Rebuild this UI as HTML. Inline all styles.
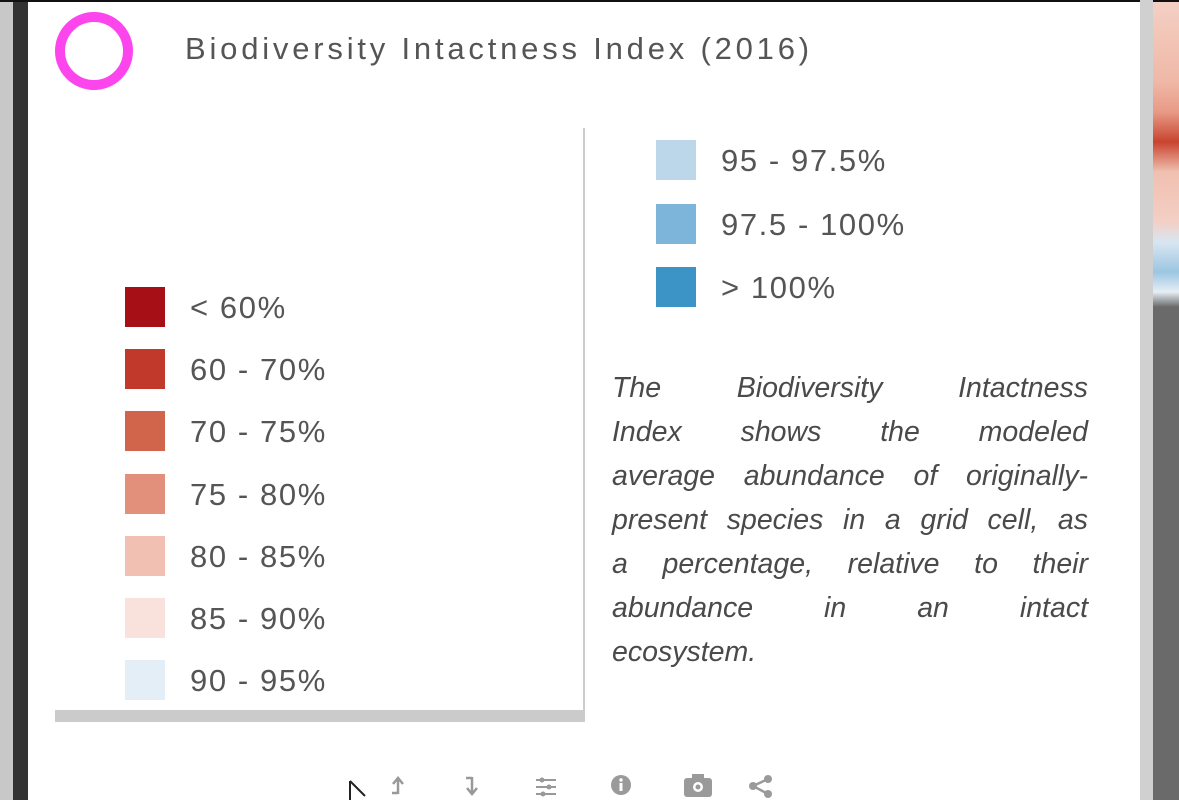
<!DOCTYPE html>
<html><head><meta charset="utf-8"><style>
body{margin:0;width:1179px;height:800px;overflow:hidden;background:#fff;font-family:"Liberation Sans",sans-serif;position:relative}
.a{position:absolute}
.sw{position:absolute;width:40px;height:40px}
.lb{position:absolute;font-size:31px;letter-spacing:1.6px;color:#555;line-height:40px;white-space:nowrap}
.ln{position:absolute;left:612px;width:476px;font-size:28.5px;font-style:italic;color:#4a4a4a;text-align:justify;text-align-last:justify;white-space:nowrap;line-height:34px}
.ln.last{text-align-last:left}
</style></head><body>
<div class="a" style="left:0;top:0;width:13px;height:800px;background:#c8c8c8"></div>
<div class="a" style="left:13px;top:0;width:15px;height:800px;background:#333"></div>
<div class="a" style="left:0;top:0;width:1179px;height:2px;background:#111"></div>
<div class="a" style="left:1140px;top:0;width:13px;height:800px;background:#d0d0d0"></div>
<div class="a" style="left:1153px;top:2px;width:26px;height:798px;background:linear-gradient(#f3d0c4 0,#f0b8a6 80px,#e89a86 110px,#c8442e 140px,#f0c0b0 170px,#f3cfc4 220px,#d8e6f2 240px,#9cc6e2 270px,#e6eef5 290px,#6a6a6a 305px,#6a6a6a 800px)"></div>
<div class="a" style="left:55px;top:12px;width:58px;height:58px;border:10px solid #fd45ee;border-radius:50%"></div>
<div class="a" style="left:185px;top:31px;font-size:31px;letter-spacing:3.8px;color:#555;white-space:nowrap">Biodiversity Intactness Index (2016)</div>
<div class="a" style="left:583px;top:128px;width:2px;height:594px;background:#ccc"></div>
<div class="a" style="left:55px;top:710px;width:529px;height:12px;background:#cbcbcb"></div>
<div id="legend"></div>
<div>
<div class="ln" style="top:371px">The Biodiversity Intactness</div>
<div class="ln" style="top:415px">Index shows the modeled</div>
<div class="ln" style="top:459px">average abundance of originally-</div>
<div class="ln" style="top:503px">present species in a grid cell, as</div>
<div class="ln" style="top:547px">a percentage, relative to their</div>
<div class="ln" style="top:591px">abundance in an intact</div>
<div class="ln last" style="top:635px">ecosystem.</div>
</div>
<svg class="a" style="left:345px;top:778px" width="30" height="22"><path d="M5 3 L5 22 M5 3 L20 18" stroke="#222" stroke-width="2" fill="none"/></svg>
<svg class="a" style="left:388px;top:774px" width="20" height="24"><path d="M10 20 V6 M5 10 L10 4 L15 10 M10 19 H4" stroke="#999" stroke-width="2.5" fill="none"/></svg>
<svg class="a" style="left:462px;top:774px" width="20" height="24"><path d="M10 3 V18 M5 14 L10 20 L15 14 M10 4 H4" stroke="#999" stroke-width="2.5" fill="none"/></svg>
<svg class="a" style="left:534px;top:776px" width="24" height="22"><path d="M2 4 H22 M2 11 H22 M2 18 H22" stroke="#999" stroke-width="2"/><circle cx="8" cy="4" r="2.5" fill="#999"/><circle cx="15" cy="11" r="2.5" fill="#999"/><circle cx="9" cy="18" r="2.5" fill="#999"/></svg>
<svg class="a" style="left:610px;top:774px" width="22" height="22"><circle cx="11" cy="11" r="10" fill="#9a9a9a"/><rect x="9.5" y="9" width="3" height="8" fill="#fff"/><circle cx="11" cy="6" r="1.7" fill="#fff"/></svg>
<svg class="a" style="left:683px;top:773px" width="30" height="24"><rect x="1" y="5" width="28" height="19" rx="3" fill="#9a9a9a"/><rect x="9" y="1" width="12" height="6" fill="#9a9a9a"/><circle cx="15" cy="14" r="5" fill="#fff"/><circle cx="15" cy="14" r="2.5" fill="#9a9a9a"/></svg>
<svg class="a" style="left:748px;top:774px" width="26" height="24"><circle cx="20" cy="5" r="4" fill="#9a9a9a"/><circle cx="5" cy="12" r="4" fill="#9a9a9a"/><circle cx="20" cy="20" r="4" fill="#9a9a9a"/><path d="M5 12 L20 5 M5 12 L20 20" stroke="#9a9a9a" stroke-width="2.5"/></svg>
<script>
const labels=["< 60%","60 - 70%","70 - 75%","75 - 80%","80 - 85%","85 - 90%","90 - 95%","95 - 97.5%","97.5 - 100%","> 100%"];
const colors=["#a50f15","#c1392b","#d1654c","#e2907c","#f2bfb3","#f9e2dc","#e4eef7","#bdd7ea","#7db4d9","#3c94c6"];
const L=document.getElementById('legend');
labels.forEach((t,i)=>{
  const right=i>=7;const k=right?i-7:i;
  const x=right?656:125;const cy=right?160+k*63.5:307+k*62.2;
  const s=document.createElement('div');s.className='sw';
  
  
  s.style.left=x+'px';s.style.top=(cy-20)+'px';s.style.background=colors[i];L.appendChild(s);
  const l=document.createElement('div');l.className='lb';
  
  
  l.style.left=(x+65)+'px';l.style.top=(cy-19)+'px';l.textContent=t;L.appendChild(l);
});
</script>
</body></html>
